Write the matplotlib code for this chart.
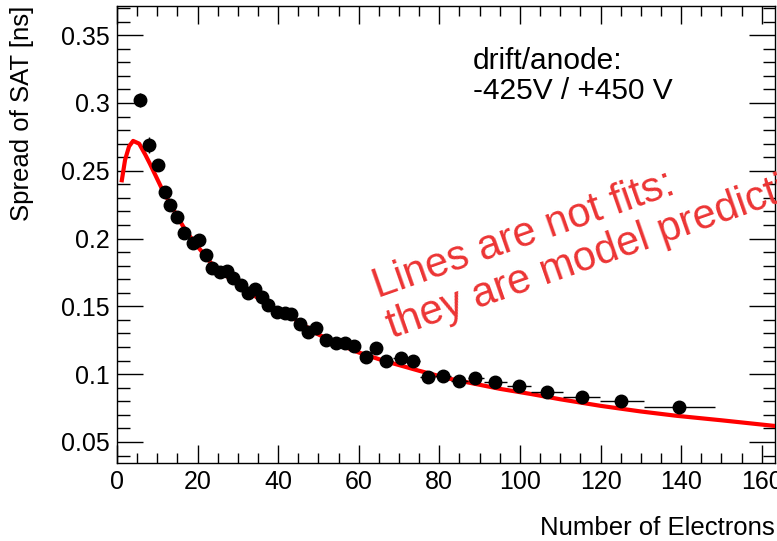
import matplotlib
matplotlib.use("Agg")
import matplotlib.pyplot as plt
from matplotlib.ticker import MultipleLocator
import numpy as np

plt.rcParams['font.family'] = ['Liberation Sans', 'DejaVu Sans']

# measured points (mean number of electrons in bin, spread of SAT)
n_el = [5.7, 8.0, 10.1, 11.9, 13.2, 14.8, 16.7, 18.9, 20.4, 22.1,
        23.7, 25.6, 27.2, 28.7, 30.7, 32.6, 34.2, 35.9, 37.5, 39.6,
        41.7, 43.3, 45.4, 47.5, 49.4, 51.9, 54.3, 56.6, 58.8, 61.8,
        64.3, 66.7, 70.4, 73.5, 77.1, 80.8, 85.0, 88.8, 93.8, 99.8,
        106.6, 115.3, 125.0, 139.5]
spread = [0.302, 0.269, 0.254, 0.234, 0.225, 0.216, 0.204, 0.197, 0.199, 0.188,
          0.178, 0.175, 0.176, 0.171, 0.166, 0.160, 0.163, 0.157, 0.151, 0.146,
          0.145, 0.1445, 0.137, 0.131, 0.134, 0.125, 0.123, 0.123, 0.121, 0.113,
          0.119, 0.110, 0.112, 0.110, 0.098, 0.099, 0.095, 0.097, 0.094, 0.091,
          0.087, 0.083, 0.080, 0.076]
spread_err = [0.005, 0.006, 0.003, 0.003, 0.002, 0.002, 0.002, 0.002, 0.002, 0.002,
              0.002, 0.002, 0.002, 0.002, 0.002, 0.002, 0.002, 0.002, 0.002, 0.002,
              0.002, 0.002, 0.002, 0.002, 0.002, 0.002, 0.002, 0.002, 0.002, 0.002,
              0.002, 0.002, 0.002, 0.002, 0.002, 0.002, 0.002, 0.002, 0.002, 0.002,
              0.002, 0.002, 0.002, 0.002]
# bin edges (horizontal error bars)
bin_edges = [4.8, 7.0, 9.0, 11.0, 12.6, 14.0, 15.7, 17.8, 19.7, 21.2,
             22.9, 24.6, 26.4, 28.0, 29.7, 31.7, 33.4, 35.0, 36.7, 38.5,
             40.6, 42.5, 44.3, 46.4, 48.5, 50.6, 53.0, 55.4, 57.7, 60.2,
             63.0, 65.5, 68.5, 72.0, 75.3, 79.0, 83.0, 87.0, 91.0, 96.7,
             102.7, 110.7, 119.9, 130.8, 148.4]

# model prediction (red line)
model_x = [1.2, 2.0, 3.0, 4.0, 5.5, 7.0, 8.2, 11.1, 14.8, 17.3,
           20.6, 24.7, 28.9, 33.0, 37.1, 41.3, 45.0, 49.5, 55.0, 60.0,
           66.1, 75.0, 82.6, 95.0, 102.5, 110.0, 119.9, 130.0, 138.9, 150.0, 163.3]
model_y = [0.243, 0.258, 0.268, 0.272, 0.270, 0.262, 0.255, 0.237, 0.217, 0.2046,
           0.192, 0.177, 0.169, 0.160, 0.152, 0.145, 0.139, 0.130, 0.122, 0.116,
           0.110, 0.1025, 0.0966, 0.0892, 0.0855, 0.0815, 0.0767, 0.0725, 0.0693, 0.066, 0.0618]

x = np.array(n_el)
edges = np.array(bin_edges)
xerr = np.clip([x - edges[:-1], edges[1:] - x], 0, None)

fig = plt.figure(figsize=(7.77, 5.41), dpi=100)
ax = fig.add_axes([117 / 777, 1 - 463 / 541, (775 - 117) / 777, (463 - 6) / 541])

ax.plot(model_x, model_y, color='#ff0000', lw=3, zorder=3)
ax.errorbar(x, spread, yerr=spread_err, xerr=xerr, fmt='o', color='black',
            ms=9, elinewidth=1, capsize=0, zorder=4)

ax.set_xlim(0, 163.3)
ax.set_ylim(0.0345, 0.3715)
ax.xaxis.set_major_locator(MultipleLocator(20))
ax.xaxis.set_minor_locator(MultipleLocator(5))
ax.yaxis.set_minor_locator(MultipleLocator(0.01))
ax.set_yticks([0.05, 0.1, 0.15, 0.2, 0.25, 0.3, 0.35])
ax.set_yticklabels(['0.05', '0.1', '0.15', '0.2', '0.25', '0.3', '0.35'])
ax.tick_params(axis='x', which='major', direction='in', length=13, width=1,
               top=True, labelsize=18, pad=5)
ax.tick_params(axis='x', which='minor', direction='in', length=7, width=1, top=True)
ax.tick_params(axis='y', which='major', direction='in', length=19, width=1,
               right=True, labelsize=18, pad=5)
ax.tick_params(axis='y', which='minor', direction='in', length=9, width=1, right=True)
for s in ax.spines.values():
    s.set_linewidth(1)

ax.set_xlabel('Number of Electrons', fontsize=18.5, loc='right')
ax.xaxis.set_label_coords(1.0, (463 - 528) / 457)
ax.xaxis.label.set_va('center')
ax.set_ylabel('Spread of SAT [ns]', fontsize=18.5, loc='top')
ax.yaxis.set_label_coords((22 - 117) / 658, 1.0)
ax.yaxis.label.set_va('center')

fig.text(473 / 777, 1 - 69 / 541, 'drift/anode:', fontsize=21.5,
         ha='left', va='baseline')
fig.text(473 / 777, 1 - 99 / 541, '-425V / +450 V', fontsize=21.5,
         ha='left', va='baseline')

fig.text(391 / 777, 1 - 336 / 541, 'Lines are not fits:\nthey are model predictions',
         color='#ec3434', fontsize=30, rotation=19.3, rotation_mode='anchor',
         ha='left', va='baseline', linespacing=1.1)

fig.savefig('out.png', dpi=100)
